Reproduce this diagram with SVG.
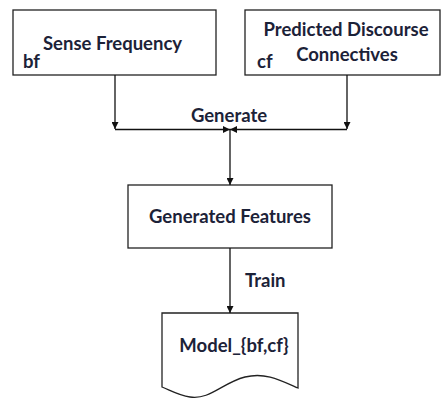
<svg xmlns="http://www.w3.org/2000/svg" width="441" height="398" viewBox="0 0 441 398">
<style>
.box{fill:#fff;stroke:#222;stroke-width:1.3}
.t{font-family:Lato,"Liberation Sans",sans-serif;font-weight:bold;font-size:18.5px;fill:#1c2238}
.c{fill:none;stroke:#111;stroke-width:1.3}
</style>
<defs>
<marker id="ah" viewBox="0 0 10 10" refX="10" refY="5" markerWidth="7" markerHeight="7" markerUnits="userSpaceOnUse" orient="auto">
<path d="M0,0 L10,5 L0,10 z" fill="#111"/>
</marker>
</defs>
<rect width="441" height="398" fill="#fff"/>
<g id="sense">
<rect class="box" x="13" y="10" width="203" height="65"/>
<text class="t" x="43" y="50">Sense Frequency</text>
<text class="t" x="23" y="68">bf</text>
</g>
<g id="predicted">
<rect class="box" x="245" y="10" width="195" height="65"/>
<text class="t" x="346" y="36" text-anchor="middle">Predicted Discourse</text>
<text class="t" x="347" y="61" text-anchor="middle">Connectives</text>
<text class="t" x="257" y="68">cf</text>
</g>
<g id="features">
<rect class="box" x="128" y="185" width="204" height="63"/>
<text class="t" x="230" y="223" text-anchor="middle">Generated Features</text>
</g>
<g id="model">
<path class="box" d="M162,313 H298 V388 C280,380 265,372 245,377 C222,383 210,400 190,397 C178,395 170,390 162,387 Z"/>
<text class="t" x="234" y="352" text-anchor="middle">Model_{bf,cf}</text>
</g>
<g id="connectors">
<line class="c" x1="115" y1="75" x2="115" y2="129" marker-end="url(#ah)"/>
<line class="c" x1="347" y1="75" x2="347" y2="129" marker-end="url(#ah)"/>
<line class="c" x1="115" y1="129.5" x2="230" y2="129.5" marker-end="url(#ah)"/>
<line class="c" x1="347" y1="129.5" x2="230" y2="129.5" marker-end="url(#ah)"/>
<line class="c" x1="230" y1="129.5" x2="230" y2="185" marker-end="url(#ah)"/>
<line class="c" x1="230" y1="248" x2="230" y2="313" marker-end="url(#ah)"/>
<text class="t" x="229" y="122" text-anchor="middle">Generate</text>
<text class="t" x="245" y="287">Train</text>
</g>
</svg>
